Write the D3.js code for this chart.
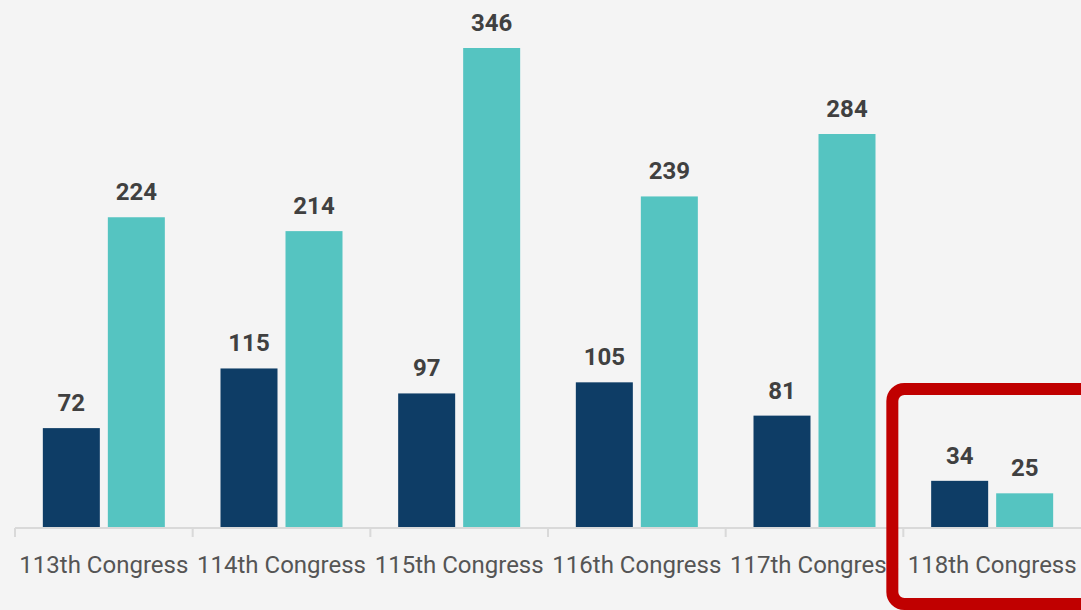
<!DOCTYPE html>
<html><head><meta charset="utf-8">
<script src="https://cdn.jsdelivr.net/npm/d3@7"></script>
<style>html,body{margin:0;padding:0;background:#f4f4f4;}svg{display:block;}</style>
</head><body>
<script>
const categories = ["113th Congress","114th Congress","115th Congress","116th Congress","117th Congress","118th Congress"];
const seriesA = [72,115,97,105,81,34];
const seriesB = [224,214,346,239,284,25];
const highlighted = "118th Congress";

const W=1081,H=610;
const svg=d3.select("body").append("svg").attr("width",W).attr("height",H);
svg.append("rect").attr("width",W).attr("height",H).attr("fill","#f4f4f4");

const x=d3.scaleBand().domain(categories).range([15,1081]).paddingInner(0).paddingOuter(0);
const y=d3.scaleLinear().domain([0,346]).range([528,48]);
const font="Roboto, 'Noto Sans', sans-serif";
const barW=57, gap=8;

const data=categories.map((c,i)=>({c,a:seriesA[i],b:seriesB[i]}));
const colors={a:"#0e3d66",b:"#55c4c1"};

const g=svg.append("g");
["a","b"].forEach((k,ki)=>{
  const off = k==="a" ? x.bandwidth()/2-gap/2-barW : x.bandwidth()/2+gap/2;
  g.selectAll("rect."+k).data(data).join("rect")
    .attr("x",d=>x(d.c)+off).attr("width",barW)
    .attr("y",d=>y(d[k])).attr("height",d=>y(0)-y(d[k]))
    .attr("fill",colors[k]);
  g.selectAll("text."+k).data(data).join("text")
    .attr("x",d=>x(d.c)+off+barW/2).attr("y",d=>y(d[k])-17)
    .attr("text-anchor","middle").attr("font-family",font).attr("font-weight",700)
    .attr("font-size",24).attr("fill","#404040").text(d=>d[k]);
});

const ax=svg.append("g").attr("transform","translate(0,528)");
ax.append("line").attr("x1",15).attr("x2",1081).attr("stroke","#d9d9d9").attr("stroke-width",2);
ax.selectAll("line.tk").data(categories).join("line").attr("class","tk")
  .attr("x1",d=>x(d)).attr("x2",d=>x(d)).attr("y1",0).attr("y2",9)
  .attr("stroke","#d9d9d9").attr("stroke-width",2);
ax.selectAll("text.lbl").data(categories).join("text").attr("class","lbl")
  .attr("x",d=>x(d)+x.bandwidth()/2).attr("y",45)
  .attr("text-anchor","middle").attr("font-family",font).attr("font-size",24)
  .attr("fill","#555555").text(d=>d);

// highlight box
svg.append("rect").attr("x",x(highlighted)-11).attr("y",389).attr("width",260).attr("height",215)
  .attr("rx",12).attr("fill","none").attr("stroke","#c00000").attr("stroke-width",12);
</script>
</body></html>
